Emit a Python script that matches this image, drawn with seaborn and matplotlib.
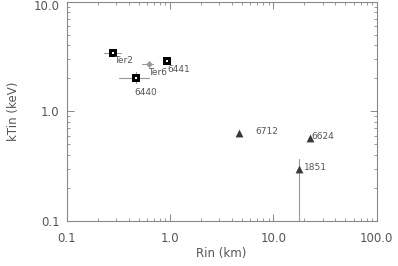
import numpy as np
import pandas as pd
import matplotlib
matplotlib.use("Agg")
import matplotlib.pyplot as plt
import matplotlib.transforms as mtransforms
import seaborn as sns
from matplotlib.ticker import FixedLocator, FixedFormatter, LogLocator, NullFormatter

# data
names = ["Ter2", "Ter6", "6441", "6440", "6712", "6624", "1851"]
rin = [0.28, 0.62, 0.935, 0.47, 4.63, 22.6, 17.7]
ktin = [3.38, 2.72, 2.88, 2.03, 0.63, 0.574, 0.298]
rin_lo = [0.23, 0.535, 0.935, 0.324, 4.63, 22.6, 17.7]
rin_hi = [0.334, 0.69, 0.935, 0.62, 4.63, 22.6, 17.7]
kt_lo = [3.20, 2.60, 2.88, 1.80, 0.63, 0.574, 0.05]
kt_hi = [3.55, 2.85, 2.88, 2.30, 0.63, 0.574, 0.365]
kind = ["sq", "dia", "sq", "sq", "tri", "tri", "tri"]
# label offsets in points
lab_dx = [1, 0, 0, -1, 12, 1, 4]
lab_dy = [-5, -6, -6, -11, 1, 1, 1]

df = pd.DataFrame({"name": names, "rin": rin, "kt": ktin, "kind": kind})

sns.set_style("ticks")
plt.rcParams["font.family"] = ["DejaVu Sans"]
gray = "#555555"

fig = plt.figure(figsize=(3.98, 2.66), dpi=100)
ax = fig.add_axes([0.1676, 0.169, 0.7784, 0.8246])

# error bars
for i in range(len(names)):
    ax.plot([rin_lo[i], rin_hi[i]], [ktin[i], ktin[i]], color="#999999", lw=0.8, zorder=1)
    ax.plot([rin[i], rin[i]], [kt_lo[i], kt_hi[i]], color="#999999", lw=0.8, zorder=1)

sq = df[df.kind == "sq"]
tri = df[df.kind == "tri"]
dia = df[df.kind == "dia"]
sns.scatterplot(data=sq, x="rin", y="kt", marker="s", s=30, color="black",
                edgecolor="black", linewidth=0, ax=ax, zorder=3)
sns.scatterplot(data=sq, x="rin", y="kt", marker="s", s=3, color="white",
                edgecolor="white", linewidth=0, ax=ax, zorder=4)
sns.scatterplot(data=tri, x="rin", y="kt", marker="^", s=32, color="#3a3a3a",
                edgecolor="#3a3a3a", linewidth=0, ax=ax, zorder=3)
sns.scatterplot(data=dia, x="rin", y="kt", marker="D", s=12, color="#999999",
                edgecolor="#999999", linewidth=0, ax=ax, zorder=3)

for i, n in enumerate(names):
    ax.annotate(n, (rin[i], ktin[i]), xytext=(lab_dx[i], lab_dy[i]),
                textcoords="offset points", fontsize=6.5, color=gray,
                ha="left", va="center")

ax.set_xscale("log")
ax.set_yscale("log")
ax.set_xlim(0.1, 100)
ax.set_ylim(0.1, 10)

xt = [0.1, 1, 10, 100]
ax.xaxis.set_major_locator(FixedLocator(xt))
ax.xaxis.set_major_formatter(FixedFormatter(["0.1", "1.0", "10.0", "100.0"]))
yt = [0.1, 1, 10]
ax.yaxis.set_major_locator(FixedLocator(yt))
ax.yaxis.set_major_formatter(FixedFormatter(["0.1", "1.0", "10.0"]))
for a in (ax.xaxis, ax.yaxis):
    a.set_minor_locator(LogLocator(base=10, subs=np.arange(2, 10)))
    a.set_minor_formatter(NullFormatter())

ax.tick_params(which="both", direction="in", top=True, right=True, color="#888888",
               labelsize=8.5, labelcolor=gray)
ax.tick_params(axis="x", which="major", pad=8)
ax.tick_params(axis="y", which="major", pad=5)
ax.tick_params(which="major", length=5, width=0.7)
ax.tick_params(which="minor", length=2.5, width=0.6)
for s in ax.spines.values():
    s.set_color("#888888")
    s.set_linewidth(0.8)

# keep the top y label inside the figure
top_lab = ax.get_yticklabels()[-1]
top_lab.set_transform(top_lab.get_transform() +
                      mtransforms.ScaledTranslation(0, -3 / 100, fig.dpi_scale_trans))

ax.set_xlabel("Rin (km)", fontsize=8.5, color=gray, labelpad=1)
ax.set_ylabel("kTin (keV)", fontsize=8.5, color=gray, labelpad=10)

fig.savefig("out.png", dpi=100)
